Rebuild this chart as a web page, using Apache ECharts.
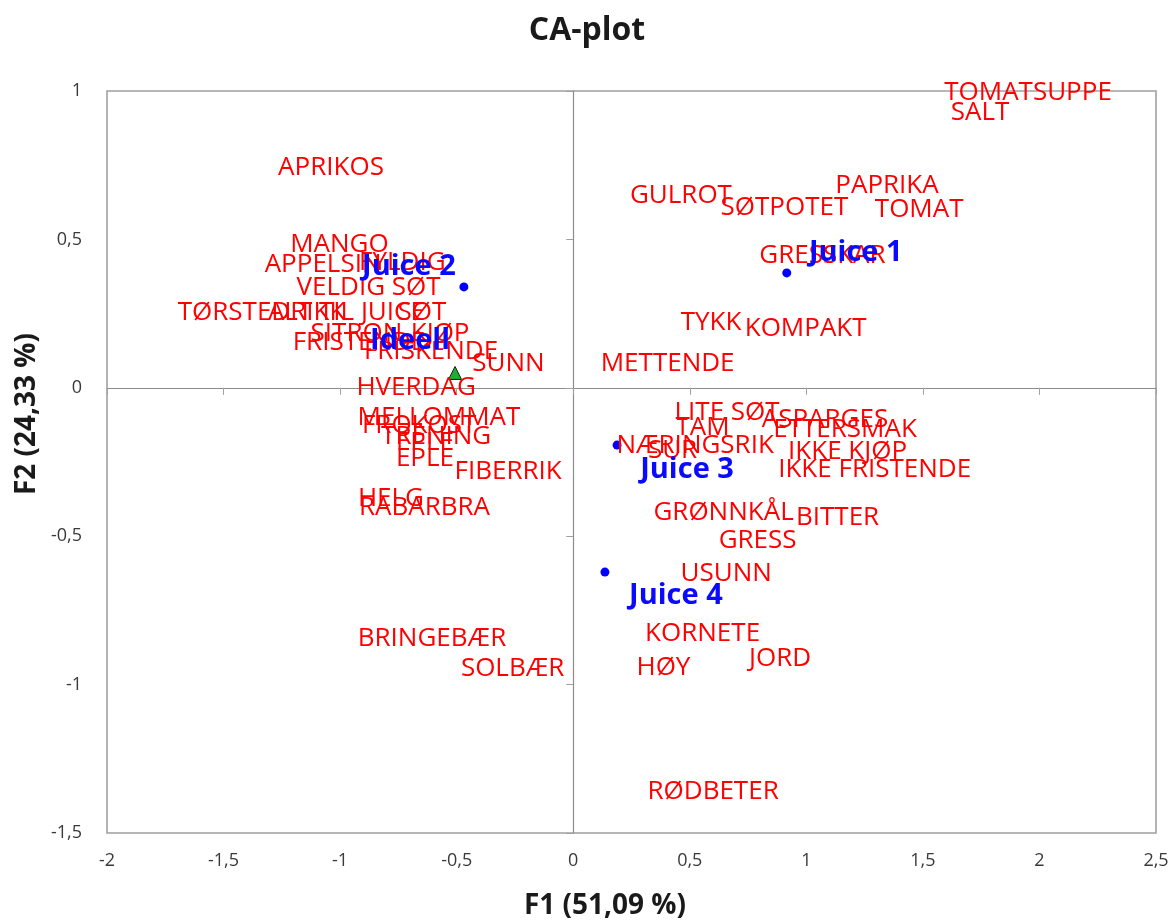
<!DOCTYPE html>
<html><head><meta charset="utf-8">
<script src="https://cdn.jsdelivr.net/npm/echarts@6/dist/echarts.min.js"></script>
<style>html,body{margin:0;padding:0;background:#fff}#c{width:1174px;height:924px}</style>
</head><body><div id="c"></div>
<script>
// Attribute (red) points
var attrNames = ["TOMATSUPPE","SALT","APRIKOS","GULROT","PAPRIKA","SØTPOTET","TOMAT","GRESSKAR","MANGO","APPELSIN","FYLDIG","VELDIG SØT","TØRSTEDRIKK","ALT TIL JUICE","SØT","SITRON","KJØP","FRISTENDE","FRISKENDE","SUNN","METTENDE","TYKK","KOMPAKT","HVERDAG","MELLOMMAT","FROKOST","TRENING","EPLE","EPLE","FIBERRIK","HELG","RABARBRA","BRINGEBÆR","SOLBÆR","LITE SØT","ASPARGES","TAM","ETTERSMAK","NÆRINGSRIK","SUR","IKKE KJØP","IKKE FRISTENDE","GRØNNKÅL","BITTER","GRESS","USUNN","KORNETE","JORD","HØY","RØDBETER"];
var attrF1 = [1.951,1.745,-1.039,0.462,1.346,0.906,1.484,1.069,-1.003,-1.073,-0.733,-0.878,-1.337,-0.973,-0.649,-0.930,-0.571,-0.919,-0.610,-0.278,0.405,0.591,0.997,-0.674,-0.576,-0.661,-0.588,-0.636,-0.636,-0.279,-0.782,-0.638,-0.606,-0.260,0.660,1.080,0.555,1.166,0.523,0.426,1.177,1.293,0.645,1.134,0.791,0.656,0.555,0.887,0.387,0.600];
var attrF2 = [0.993,0.926,0.741,0.646,0.680,0.606,0.599,0.444,0.484,0.416,0.423,0.336,0.252,0.252,0.252,0.181,0.181,0.151,0.121,0.080,0.080,0.221,0.198,0.000,-0.102,-0.126,-0.166,-0.186,-0.240,-0.283,-0.372,-0.405,-0.846,-0.947,-0.082,-0.108,-0.135,-0.142,-0.196,-0.210,-0.216,-0.277,-0.419,-0.438,-0.516,-0.627,-0.829,-0.914,-0.944,-1.359];
// Product (blue) points
var juiceNames = ["Juice 1","Juice 2","Juice 3","Juice 4"];
var juiceF1 = [0.916,-0.469,0.188,0.136];
var juiceF2 = [0.387,0.340,-0.193,-0.621];
// Ideal point
var idealName = "Ideell";
var idealF1 = [-0.507];
var idealF2 = [0.050];
// Axis ticks
var xTicks = {min:-2, max:2.5, step:0.5};
var yTicks = {min:-1.5, max:1, step:0.5};
var xTitle = 'F1 (51,09 %)';
var yTitle = 'F2 (24,33 %)';

var juiceLabelOffsets = [[69,-20],[-55,-20],[70,25],[71,24]];
var comma = function(v){ return String(v).replace('.', ','); };

var attrData = attrNames.map(function(n,i){ return {name:n, value:[attrF1[i], attrF2[i]]}; });
var juiceData = juiceNames.map(function(n,i){
  return {name:n, value:[juiceF1[i], juiceF2[i]], label:{offset:juiceLabelOffsets[i]}};
});
var idealData = [{name:idealName, value:[idealF1[0], idealF2[0]], label:{offset:[-45,-32]}}];

var chart = echarts.init(document.getElementById('c'));
var axisCommonX = {type:'value', min:xTicks.min, max:xTicks.max, interval:xTicks.step};
var axisCommonY = {type:'value', min:yTicks.min, max:yTicks.max, interval:yTicks.step};
var tickFont = {fontFamily:'Open Sans', fontSize:18, color:'#3a3a3a', formatter:comma};
chart.setOption({
  animation:false,
  title:{text:'CA-plot', left:'center', top:10, textStyle:{fontFamily:'Open Sans', fontSize:32, fontWeight:'bold', color:'#1a1a1a'}},
  grid:{left:107, right:18, top:91, bottom:91, show:true, borderColor:'#a0a0a0', borderWidth:1.6},
  graphic:[
    {type:'text', left:null, x:605, y:906, style:{text:xTitle, x:0, y:0, align:'center', verticalAlign:'middle', font:'bold 28px "Open Sans"', fill:'#1a1a1a'}},
    {type:'text', x:27, y:414, rotation:Math.PI/2, style:{text:yTitle, x:0, y:0, align:'center', verticalAlign:'middle', font:'bold 28px "Open Sans"', fill:'#1a1a1a'}}
  ],
  xAxis:[
    Object.assign({}, axisCommonX, {position:'bottom', axisLine:{show:false}, axisTick:{show:false}, splitLine:{show:false},
      axisLabel:Object.assign({margin:19}, tickFont)}),
    Object.assign({}, axisCommonX, {position:'top', axisLine:{show:true, onZero:true, onZeroAxisIndex:0, lineStyle:{color:'#8c8c8c', width:1.2}},
      axisTick:{show:true, length:7, inside:true, lineStyle:{color:'#a0a0a0'}}, axisLabel:{show:false}, splitLine:{show:false}})
  ],
  yAxis:[
    Object.assign({}, axisCommonY, {position:'left', axisLine:{show:false}, axisTick:{show:false}, splitLine:{show:false},
      axisLabel:Object.assign({margin:25}, tickFont)}),
    Object.assign({}, axisCommonY, {position:'right', axisLine:{show:true, onZero:true, onZeroAxisIndex:0, lineStyle:{color:'#8c8c8c', width:1.2}},
      axisTick:{show:true, length:7, inside:true, lineStyle:{color:'#a0a0a0'}}, axisLabel:{show:false}, splitLine:{show:false}})
  ],
  series:[
    {type:'scatter', name:'attr', data:attrData, symbolSize:0, silent:true, itemStyle:{opacity:1},
      label:{show:true, position:'inside', formatter:'{b}', fontFamily:'Open Sans', fontSize:26, color:'#ff0000'}},
    {type:'scatter', name:'juice', data:juiceData, symbol:'circle', symbolSize:9, itemStyle:{color:'#0000ff', opacity:1},
      label:{show:true, position:'inside', formatter:'{b}', fontFamily:'Open Sans', fontSize:29, fontWeight:'bold', color:'#0a0aff'}},
    {type:'scatter', name:'ideal', data:idealData, symbol:'triangle', symbolSize:13, itemStyle:{color:'#1fae2f', borderColor:'#1a1a1a', borderWidth:1, opacity:1},
      label:{show:true, position:'inside', formatter:'{b}', fontFamily:'Open Sans', fontSize:29, fontWeight:'bold', color:'#0a0aff'}}
  ]
});
</script></body></html>
